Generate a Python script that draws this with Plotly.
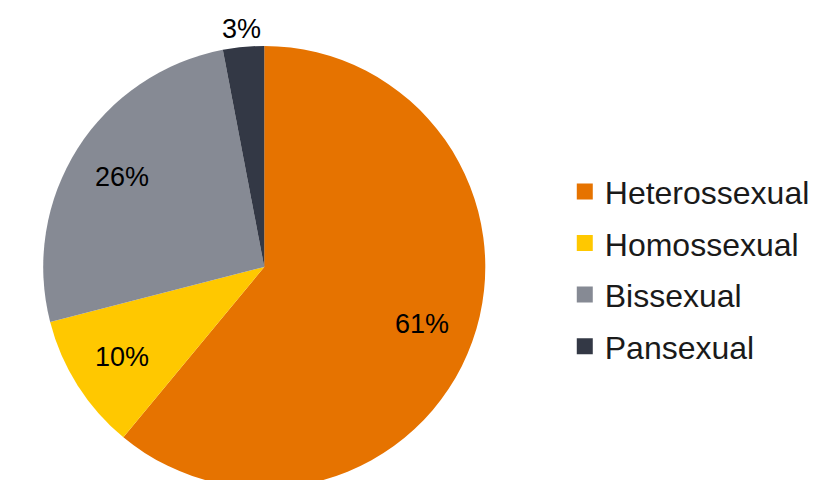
import math
import plotly.graph_objects as go

labels = ["Heterossexual", "Homossexual", "Bissexual", "Pansexual"]
values = [61, 10, 26, 3]
colors = ["#E67300", "#FFC800", "#868A94", "#333845"]
label_outside = [False, False, False, True]

W, H = 820, 480
dom_x = [0.0365, 0.5885]
dom_y = [0.0, 0.921]

fig = go.Figure()
fig.add_trace(go.Pie(
    labels=labels,
    values=values,
    sort=False,
    direction="clockwise",
    rotation=0,
    marker=dict(colors=colors, line=dict(width=0)),
    textinfo="none",
    domain=dict(x=dom_x, y=dom_y),
    showlegend=False,
))

# legend entries (same labels / colours as the pie)
for i, (lab, col) in enumerate(zip(labels, colors)):
    fig.add_trace(go.Scatter(
        x=[None], y=[None], mode="markers", name=lab,
        marker=dict(symbol="square", size=16, color=col),
        legendgroup=f"g{i}", showlegend=True, hoverinfo="skip",
    ))

# percentage labels placed along each slice's mid-angle (Excel-like placement)
total = sum(values)
cx = (dom_x[0] + dom_x[1]) / 2
cy = (dom_y[0] + dom_y[1]) / 2
r_px = min((dom_x[1] - dom_x[0]) * W, (dom_y[1] - dom_y[0]) * H) / 2
annotations = []
cum = 0.0
for v, outside in zip(values, label_outside):
    mid = (cum + v / 2) / total * 2 * math.pi
    cum += v
    f = 1.08 if outside else 0.76
    annotations.append(dict(
        x=cx + f * r_px * math.sin(mid) / W,
        y=cy + f * r_px * math.cos(mid) / H,
        xref="paper", yref="paper", showarrow=False,
        text=f"{round(v / total * 100)}%",
        font=dict(family="Liberation Sans, Arial", size=27, color="#000000"),
        xanchor="center", yanchor="middle",
    ))

fig.update_layout(
    width=W,
    height=H,
    margin=dict(l=0, r=0, t=0, b=0),
    paper_bgcolor="white",
    plot_bgcolor="white",
    font=dict(family="Liberation Sans, Arial", color="#000000"),
    xaxis=dict(visible=False),
    yaxis=dict(visible=False),
    annotations=annotations,
    legend=dict(
        x=0.679, y=0.456, xanchor="left", yanchor="middle",
        font=dict(size=32, color="#1a1a1a"),
        itemsizing="trace",
        tracegroupgap=7,
        bgcolor="rgba(0,0,0,0)",
    ),
)

fig.write_html("out.html")
